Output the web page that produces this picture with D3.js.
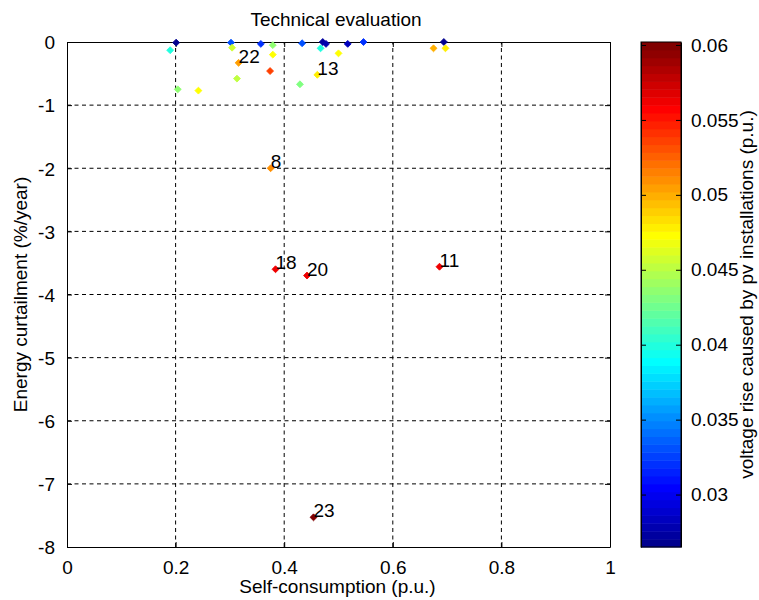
<!DOCTYPE html>
<html>
<head>
<meta charset="utf-8">
<script src="https://cdn.jsdelivr.net/npm/d3@7"></script>
<style>
  body { margin: 0; background: #fff; }
  text { font-family: "Liberation Sans", Arial, sans-serif; fill: #000; }
</style>
</head>
<body>
<svg id="chart"></svg>
<script>
// values
let selfCons = [0.201, 0.190, 0.302, 0.304, 0.316, 0.357, 0.379, 0.379, 0.374, 0.204,
                0.242, 0.313, 0.433, 0.429, 0.467, 0.471, 0.477, 0.517, 0.500, 0.546,
                0.461, 0.675, 0.694, 0.697, 0.375, 0.384, 0.442, 0.686, 0.454];
let curtail = [-0.01, -0.13, -0.01, -0.09, -0.33, -0.03, -0.05, -0.20, -0.46, -0.75,
               -0.77, -0.58, -0.02, -0.67, -0.10, 0.00, -0.03, -0.03, -0.18, 0.00,
               -0.52, -0.10, 0.00, -0.10, -2.00, -3.60, -3.70, -3.56, -7.53];
let voltRise = [0.0265, 0.0400, 0.0330, 0.0455, 0.0505, 0.0320, 0.0434, 0.0472, 0.0535, 0.0434,
                0.0472, 0.0452, 0.0330, 0.0432, 0.0400, 0.0272, 0.0280, 0.0282, 0.0472, 0.0322,
                0.0476, 0.0500, 0.0268, 0.0478, 0.0510, 0.0560, 0.0560, 0.0560, 0.0602];
let pointLabels = ["", "", "", "", "22", "", "", "", "", "",
                   "", "", "", "", "", "", "", "", "", "",
                   "13", "", "", "", "8", "18", "20", "11", "23"];

let xTicks = [0, 0.2, 0.4, 0.6, 0.8, 1];
let yTicks = [0, -1, -2, -3, -4, -5, -6, -7, -8];
let cTicks = [0.03, 0.035, 0.04, 0.045, 0.05, 0.055, 0.06];

let margin = {top: 42, left: 67};
let width = 543, height = 505;
let fontSize = "19px";

// MATLAB jet(64)
function jetColor(k) { // k = 1..64
    let u = (j) => j < 1 || j > 47 ? 0 : (j <= 16 ? j / 16 : (j <= 31 ? 1 : (48 - j) / 16));
    let r = u(k - 24), g = u(k - 8), b = u(k + 8);
    return d3.rgb(r * 255, g * 255, b * 255).toString();
}
let cExtent = d3.extent(voltRise);
let colorIndex = (v) => Math.min(64, Math.floor((v - cExtent[0]) / (cExtent[1] - cExtent[0]) * 64) + 1);
let plainFormat = (d) => String(+d.toFixed(3));

let svg = d3.select("#chart").attr("width", 759).attr("height", 600);

let xScale = d3.scaleLinear().domain([0, 1]).range([margin.left, margin.left + width]);
let yScale = d3.scaleLinear().domain([-8, 0]).range([margin.top + height, margin.top]);

// grid
svg.append("g").selectAll("line")
    .data(xTicks.slice(1, -1))
    .enter().append("line")
    .attr("x1", (d) => xScale(d)).attr("x2", (d) => xScale(d))
    .attr("y1", yScale(-8)).attr("y2", yScale(0))
    .attr("stroke", "#000").attr("stroke-dasharray", "4,3.5");
svg.append("g").selectAll("line")
    .data(yTicks.slice(1, -1))
    .enter().append("line")
    .attr("y1", (d) => yScale(d)).attr("y2", (d) => yScale(d))
    .attr("x1", xScale(0)).attr("x2", xScale(1))
    .attr("stroke", "#000").attr("stroke-dasharray", "4,3.5");

// axes, ticks inside on every side
let bottomAxis = svg.append("g")
    .attr("transform", "translate(0," + yScale(-8) + ")")
    .call(d3.axisBottom(xScale).tickValues(xTicks).tickSizeInner(-5).tickSizeOuter(0).tickPadding(10)
        .tickFormat(plainFormat));
let leftAxis = svg.append("g")
    .attr("transform", "translate(" + xScale(0) + ",0)")
    .call(d3.axisLeft(yScale).tickValues(yTicks).tickSizeInner(-5).tickSizeOuter(0).tickPadding(12)
        .tickFormat(plainFormat));
svg.append("g")
    .attr("transform", "translate(0," + yScale(0) + ")")
    .call(d3.axisTop(xScale).tickValues(xTicks).tickSizeInner(-5).tickSizeOuter(0).tickFormat(""));
svg.append("g")
    .attr("transform", "translate(" + xScale(1) + ",0)")
    .call(d3.axisRight(yScale).tickValues(yTicks).tickSizeInner(-5).tickSizeOuter(0).tickFormat(""));

svg.selectAll(".domain").attr("stroke", "#000");
svg.selectAll(".tick line").attr("stroke", "#000");
svg.selectAll(".tick text").attr("font-size", fontSize).attr("fill", "#000")
    .style("font-family", "'Liberation Sans', Arial, sans-serif");
bottomAxis.selectAll(".tick text").attr("dy", "0.88em");
leftAxis.selectAll(".tick text").attr("dy", "0.36em");

// titles
svg.append("text")
    .attr("x", 336).attr("y", 26)
    .attr("text-anchor", "middle").attr("font-size", fontSize)
    .text("Technical evaluation");
svg.append("text")
    .attr("x", xScale(0.5) - 1).attr("y", 593)
    .attr("text-anchor", "middle").attr("font-size", fontSize)
    .text("Self-consumption (p.u.)");
svg.append("text")
    .attr("transform", "translate(27," + yScale(-4) + ") rotate(-90)")
    .attr("text-anchor", "middle").attr("font-size", fontSize)
    .text("Energy curtailment (%/year)");

// points
let symbol = d3.symbol().type(d3.symbolSquare).size(24);
let points = svg.append("g").selectAll("g")
    .data(selfCons.map((x, i) => ({x: x, y: curtail[i], v: voltRise[i], label: pointLabels[i]})))
    .enter().append("g")
    .attr("transform", (d) => "translate(" + xScale(d.x) + "," + yScale(d.y) + ")");
points.append("path")
    .attr("d", symbol)
    .attr("transform", "rotate(45)")
    .attr("fill", (d) => jetColor(colorIndex(d.v)))
    .attr("stroke", (d) => jetColor(colorIndex(d.v)))
    .attr("stroke-width", 0.8);
points.filter((d) => d.label !== "")
    .append("text")
    .attr("x", 0).attr("y", 0)
    .attr("font-size", fontSize)
    .text((d) => d.label);

// colorbar
let cbX = 641, cbW = 40;
let cScale = d3.scaleLinear().domain(cExtent).range([margin.top + height, margin.top]);
let bandH = height / 64;
svg.append("g").selectAll("rect")
    .data(d3.range(1, 65))
    .enter().append("rect")
    .attr("x", cbX)
    .attr("y", (k) => margin.top + height - k * bandH)
    .attr("width", cbW)
    .attr("height", bandH + 0.5)
    .attr("fill", (k) => jetColor(k));
svg.append("rect")
    .attr("x", cbX).attr("y", margin.top).attr("width", cbW).attr("height", height)
    .attr("fill", "none").attr("stroke", "#000");
let cbAxis = svg.append("g")
    .attr("transform", "translate(" + (cbX + cbW) + ",0)")
    .call(d3.axisRight(cScale).tickValues(cTicks).tickSizeInner(-5).tickSizeOuter(0).tickPadding(10)
        .tickFormat(plainFormat));
svg.append("g")
    .attr("transform", "translate(" + cbX + ",0)")
    .call(d3.axisLeft(cScale).tickValues(cTicks).tickSizeInner(-5).tickSizeOuter(0).tickFormat(""));
svg.selectAll(".domain").attr("stroke", "#000");
svg.selectAll(".tick line").attr("stroke", "#000");
cbAxis.selectAll(".tick text").attr("font-size", fontSize).attr("fill", "#000")
    .style("font-family", "'Liberation Sans', Arial, sans-serif");
svg.append("text")
    .attr("transform", "translate(753," + cScale.range().reduce((a, b) => (a + b) / 2) + ") rotate(-90)")
    .attr("text-anchor", "middle").attr("font-size", fontSize)
    .text("voltage rise caused by pv installations (p.u.)");
</script>
</body>
</html>
